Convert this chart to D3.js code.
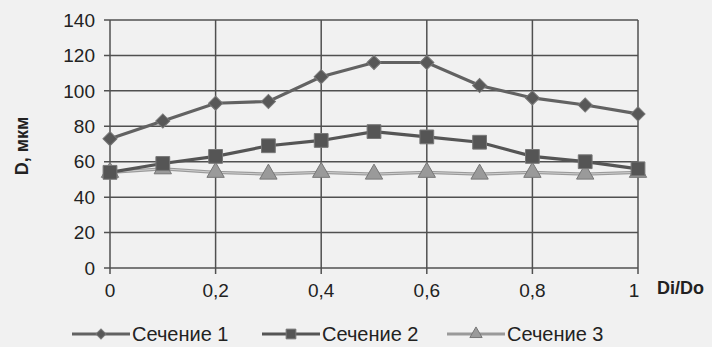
<!DOCTYPE html>
<html><head><meta charset="utf-8">
<script src="https://cdn.jsdelivr.net/npm/d3@7"></script>
<style>
html,body{margin:0;padding:0;background:#f1f1f1;}
svg{display:block;font-family:"Liberation Sans",Arial,sans-serif;}
</style></head>
<body>
<svg id="chart" width="712" height="347"></svg>
<script>
const xValues = [0, 0.1, 0.2, 0.3, 0.4, 0.5, 0.6, 0.7, 0.8, 0.9, 1.0];
const series1 = [73, 83, 93, 94, 108, 116, 116, 103, 96, 92, 87];
const series2 = [54, 59, 63, 69, 72, 77, 74, 71, 63, 60, 56];
const series3 = [54, 56, 54, 53, 54, 53, 54, 53, 54, 53, 54];
const seriesNames = ["Сечение 1", "Сечение 2", "Сечение 3"];
const xTicks = [0, 0.2, 0.4, 0.6, 0.8, 1];
const xTickLabels = ["0", "0,2", "0,4", "0,6", "0,8", "1"];
const yTicks = [0, 20, 40, 60, 80, 100, 120, 140];
const yTitle = "D, мкм";
const xTitle = "Di/Do";

const svg = d3.select("#chart");
const x = d3.scaleLinear().domain([0, 1]).range([110, 638]);
const y = d3.scaleLinear().domain([0, 140]).range([268, 20]);

const gridColor = "#505050";
svg.append("g").selectAll("line").data(yTicks).join("line")
  .attr("x1", x(0) - 6).attr("x2", x(1))
  .attr("y1", d => y(d)).attr("y2", d => y(d))
  .attr("stroke", gridColor).attr("stroke-width", 1.5);
svg.append("g").selectAll("line").data(xTicks).join("line")
  .attr("x1", d => x(d)).attr("x2", d => x(d))
  .attr("y1", y(140)).attr("y2", y(0) + 6)
  .attr("stroke", gridColor).attr("stroke-width", 1.5);

svg.append("g").selectAll("text").data(yTicks).join("text")
  .attr("x", 95).attr("y", d => y(d)).attr("dy", "0.35em")
  .attr("text-anchor", "end").attr("font-size", 19).attr("fill", "#222")
  .text(d => d);
svg.append("g").selectAll("text").data(xTicks).join("text")
  .attr("x", (d, i) => x(d) - (i === xTicks.length - 1 ? 4 : 0)).attr("y", 297)
  .attr("text-anchor", "middle").attr("font-size", 19).attr("fill", "#222")
  .text((d, i) => xTickLabels[i]);

svg.append("text").attr("transform", "translate(28,146) rotate(-90)")
  .attr("text-anchor", "middle").attr("font-size", 18).attr("font-weight", "bold")
  .attr("fill", "#222").text(yTitle);
svg.append("text").attr("x", 657).attr("y", 294)
  .attr("font-size", 18).attr("font-weight", "bold").attr("fill", "#222").text(xTitle);

const styles = [
  {data: series1, line: "#626262", marker: "diamond", fill: "#585858", size: 100},
  {data: series2, line: "#555", marker: "square", fill: "#555", size: 190},
  {data: series3, line: "#9a9a9a", marker: "triangle", fill: "#9a9a9a", size: 130}
];
const symType = {diamond: d3.symbolSquare, square: d3.symbolSquare, triangle: d3.symbolTriangle};
const rot = {diamond: 45, square: 0, triangle: 0};

const line = d3.line().x((d, i) => x(xValues[i])).y(d => y(d));

[2, 1, 0].forEach(k => {
  const s = styles[k];
  const g = svg.append("g");
  g.append("path").datum(s.data).attr("d", line)
    .attr("fill", "none").attr("stroke", s.line).attr("stroke-width", 3.2);
  if (k === 2) {
    g.append("path").datum(s.data).attr("d", line)
      .attr("fill", "none").attr("stroke", "#cfcfcf").attr("stroke-width", 1);
  }
  g.selectAll("path.m").data(s.data).join("path").attr("class", "m")
    .attr("transform", (d, i) => `translate(${x(xValues[i])},${y(d)}) rotate(${rot[s.marker]})`)
    .attr("d", d3.symbol().type(symType[s.marker]).size(s.size))
    .attr("fill", s.fill).attr("stroke", "#777").attr("stroke-width", 1);
});

const legendPos = [{lx: 72, tx: 132}, {lx: 262, tx: 322}, {lx: 447, tx: 507}];
legendPos.forEach((p, k) => {
  const s = styles[k];
  const ly = 334;
  svg.append("line").attr("x1", p.lx).attr("x2", p.lx + 58).attr("y1", ly).attr("y2", ly)
    .attr("stroke", s.line).attr("stroke-width", 3.2);
  svg.append("path").attr("transform", `translate(${p.lx + 29},${ly}) rotate(${rot[s.marker]})`)
    .attr("d", d3.symbol().type(symType[s.marker]).size(s.size * 0.5))
    .attr("fill", s.fill).attr("stroke", "#777").attr("stroke-width", 1);
  svg.append("text").attr("x", p.tx).attr("y", 341).attr("font-size", 20)
    .attr("fill", "#222").text(seriesNames[k]);
});
</script>
</body></html>
